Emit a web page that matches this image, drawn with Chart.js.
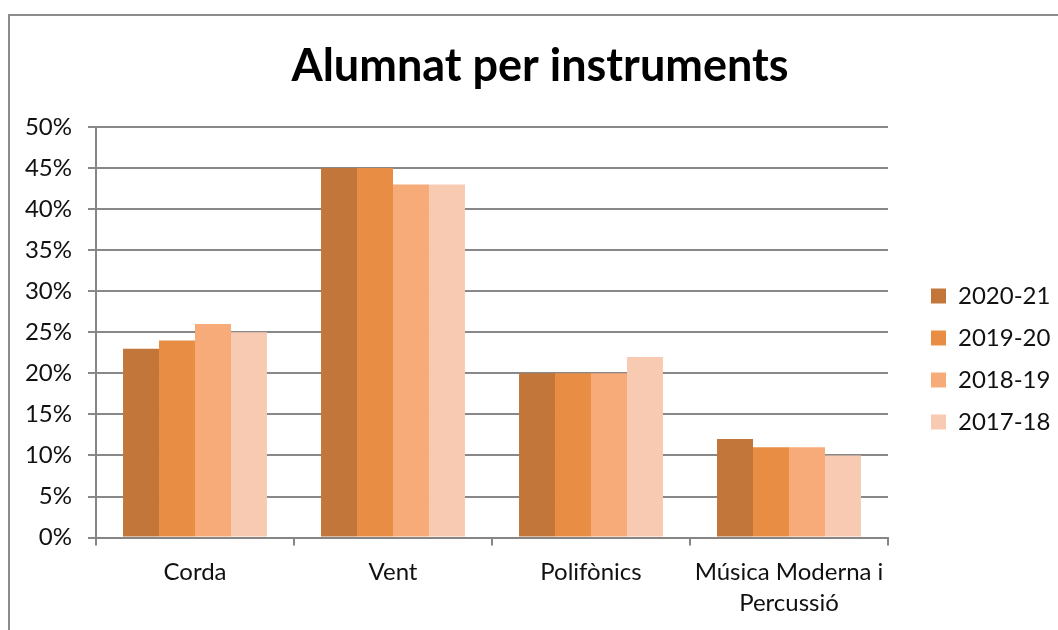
<!DOCTYPE html>
<html lang="ca">
<head>
    <meta charset="UTF-8">
    <title>Alumnat per instruments</title>
    <script src="https://cdn.jsdelivr.net/npm/chart.js"></script>
    <style>
        body {
            margin: 0;
            background: white;
            overflow: hidden;
        }
        .frame {
            position: absolute;
            left: 8px;
            top: 14px;
            width: 1100px;
            height: 700px;
            border: 2px solid #8c8c8c;
        }
        .wrap {
            position: absolute;
            left: 0;
            top: 0;
            width: 1058px;
            height: 630px;
        }
    </style>
</head>
<body>
    <div class="frame"></div>
    <div class="wrap"><canvas id="chart"></canvas></div>

    <script>
        // categories and values (percent)
        const categories = ["Corda", "Vent", "Polifònics", ["Música Moderna i", "Percussió"]];
        const seriesNames = ["2020-21", "2019-20", "2018-19", "2017-18"];
        const values2021 = [23, 45, 20, 12];
        const values1920 = [24, 45, 20, 11];
        const values1819 = [26, 43, 20, 11];
        const values1718 = [25, 43, 22, 10];
        const yTicks = [0, 5, 10, 15, 20, 25, 30, 35, 40, 45, 50];

        const colors = ["#c3763a", "#e88e44", "#f7ab79", "#f8cab1"];
        const allValues = [values2021, values1920, values1819, values1718];

        Chart.defaults.font.family = "Lato, 'Open Sans', sans-serif";
        Chart.defaults.color = "#111";

        // fixed legend column on the right, like the spreadsheet chart
        const legendPlace = {
            id: "legendPlace",
            beforeLayout(chart) {
                const lg = chart.legend;
                if (lg && !lg._fixed) {
                    const fit = lg.fit.bind(lg);
                    lg.fit = function () {
                        fit();
                        this.width = 170;
                    };
                    lg._fixed = true;
                }
            },
            afterLayout(chart) {
                const lg = chart.legend;
                lg.left = 913;
                lg.right = 1083;
                lg.top = 266;
            }
        };

        const ctx = document.getElementById("chart").getContext("2d");
        new Chart(ctx, {
            type: "bar",
            data: {
                labels: categories,
                datasets: seriesNames.map((name, i) => ({
                    label: name,
                    data: allValues[i],
                    backgroundColor: colors[i],
                    borderWidth: 0,
                    categoryPercentage: 0.727,
                    barPercentage: 1
                }))
            },
            plugins: [legendPlace],
            options: {
                responsive: true,
                maintainAspectRatio: false,
                animation: false,
                layout: { padding: { left: 22, right: 0, top: 0, bottom: 0 } },
                plugins: {
                    title: {
                        display: true,
                        text: "Alumnat per instruments",
                        font: { size: 45, weight: "bold" },
                        color: "#000",
                        padding: { top: 39, bottom: 34 }
                    },
                    legend: {
                        position: "right",
                        align: "start",
                        labels: {
                            boxWidth: 15,
                            boxHeight: 15,
                            padding: 18,
                            font: { size: 24 },
                            color: "#111"
                        }
                    },
                    tooltip: { enabled: false }
                },
                scales: {
                    x: {
                        grid: {
                            display: true,
                            drawOnChartArea: false,
                            offset: true,
                            tickLength: 8,
                            color: "#868686",
                            lineWidth: 2
                        },
                        border: { color: "#868686", width: 2 },
                        ticks: {
                            font: { size: 24, lineHeight: 1.3 },
                            color: "#111",
                            padding: 11,
                            maxRotation: 0
                        }
                    },
                    y: {
                        min: 0,
                        max: 50,
                        afterFit: (scale) => { scale.width = 74; },
                        afterBuildTicks: (scale) => {
                            scale.ticks = yTicks.map(v => ({ value: v }));
                        },
                        grid: {
                            color: "#888888",
                            lineWidth: 2,
                            tickLength: 8
                        },
                        border: { color: "#868686", width: 2 },
                        ticks: {
                            font: { size: 24 },
                            color: "#111",
                            padding: 16,
                            callback: (v) => v + "%"
                        }
                    }
                }
            }
        });
    </script>
</body>
</html>
